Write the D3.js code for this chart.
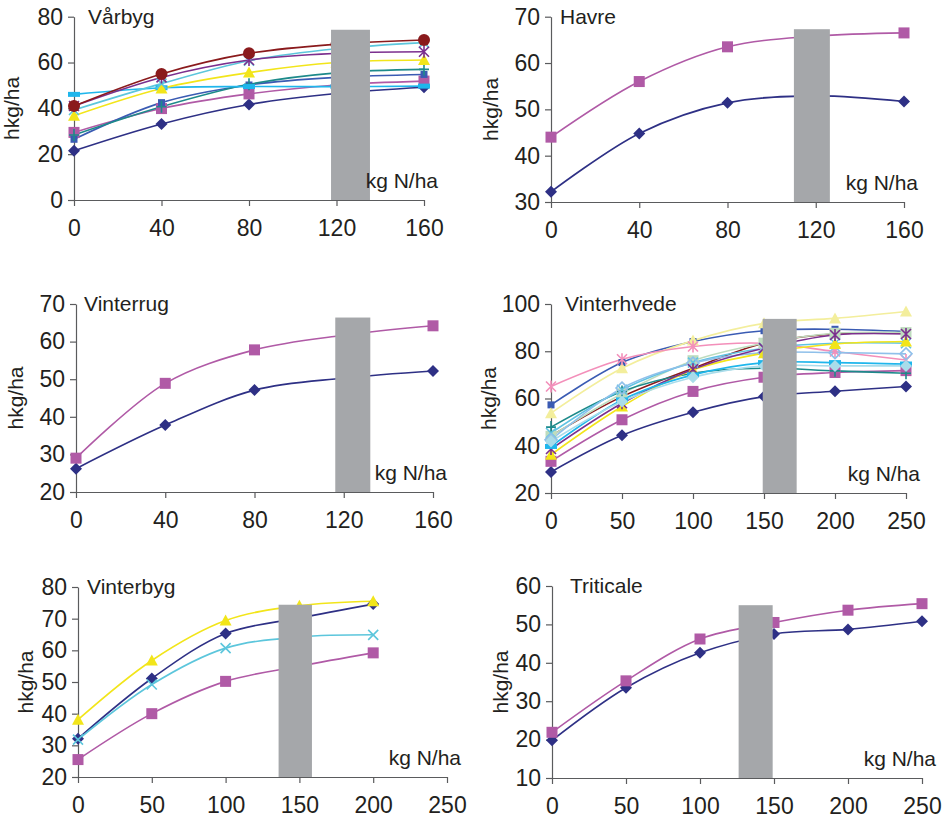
<!DOCTYPE html>
<html>
<head>
<meta charset="utf-8">
<script src="https://cdn.jsdelivr.net/npm/d3@7"></script>
<style>
  body { margin: 0; background: #fff; }
  svg { display: block; font-family: "Liberation Sans", Arial, sans-serif; }
</style>
</head>
<body>
<svg id="chart" width="944" height="820"></svg>
<script>
// ---- data (hkg/ha) ----
const vaarbygN = [0, 40, 80, 120, 160];
const vaarbygY = [
  [21.5, 33.2, 41.7, 46.5, 49.2],
  [29.5, 39.9, 46.3, 50.2, 51.9],
  [26.5, 42.5, 50.2, 53.5, 54.8],
  [28.4, 40.7, 50.5, 55.5, 57.0],
  [46.1, 49.0, 49.5, 49.5, 49.7],
  [36.8, 48.7, 55.6, 60.0, 61.1],
  [39.3, 50.8, 60.8, 66.0, 68.7],
  [41.0, 53.5, 61.1, 64.0, 64.7],
  [41.0, 55.0, 64.0, 68.0, 69.8]
];
const havreN = [0, 40, 80, 120, 160];
const havreY = [
  [32.2, 44.8, 51.4, 52.9, 51.7],
  [44.0, 56.0, 63.5, 65.8, 66.5]
];
const vinterrugN = [0, 40, 80, 120, 160];
const vinterrugY = [
  [26.2, 37.8, 47.1, 50.3, 52.2],
  [29.0, 48.9, 57.8, 61.7, 64.2]
];
const vinterhvedeN = [0, 50, 100, 150, 200, 250];
const vinterhvedeY = [
  [28.9, 44.4, 54.2, 60.8, 63.1, 65.1],
  [33.4, 51.0, 63.0, 69.0, 71.0, 71.8],
  [57.3, 75.2, 84.1, 88.7, 89.3, 88.3],
  [53.8, 72.8, 84.5, 91.8, 93.9, 96.8],
  [65.1, 76.6, 82.0, 83.4, 79.9, 76.3],
  [44.2, 60.8, 72.8, 83.4, 87.3, 87.6],
  [44.0, 62.0, 76.0, 83.4, 87.6, 87.9],
  [47.9, 63.0, 70.7, 72.8, 71.7, 70.7],
  [45.4, 63.7, 75.2, 81.3, 83.4, 83.4],
  [42.5, 64.4, 75.0, 79.4, 79.4, 78.9],
  [36.2, 56.6, 72.1, 79.2, 83.1, 84.1],
  [38.6, 58.0, 72.4, 81.3, 86.9, 87.3],
  [39.7, 59.4, 70.0, 75.2, 75.2, 74.6],
  [41.8, 58.7, 69.0, 73.8, 73.8, 73.8]
];
const vinterbygN = [0, 50, 100, 150, 200];
const vinterbygY = [
  [32.1, 51.1, 65.3, 70.2, 74.6],
  [25.5, 40.0, 50.2, 55.0, 59.2],
  [38.1, 56.8, 69.4, 74.1, 75.5],
  [31.8, 49.2, 60.7, 64.2, 64.9]
];
const triticaleN = [0, 50, 100, 150, 200, 250];
const triticaleY = [
  [19.8, 33.5, 42.6, 47.5, 48.7, 50.8],
  [21.9, 35.3, 46.2, 50.5, 53.7, 55.4]
];

// grey band: [from kg N, to kg N, top hkg]
const vaarbygBand = [117.5, 135.3, 74.3];
const havreBand = [110.1, 126.4, 67.3];
const vinterrugBand = [116.2, 131.9, 66.4];
const vinterhvedeBand = [149.1, 173.0, 93.7];
const vinterbygBand = [135.9, 158.5, 74.4];
const triticaleBand = [126.1, 149.1, 55.0];

// tick labels
const xTicks160 = [0, 40, 80, 120, 160];
const xTicks250 = [0, 50, 100, 150, 200, 250];
const yTicksVaarbyg = [0, 20, 40, 60, 80];
const yTicksHavre = [30, 40, 50, 60, 70];
const yTicksVinterrug = [20, 30, 40, 50, 60, 70];
const yTicksVinterhvede = [20, 40, 60, 80, 100];
const yTicksVinterbyg = [20, 30, 40, 50, 60, 70, 80];
const yTicksTriticale = [10, 20, 30, 40, 50, 60];

// ---- styles ----
const navy = "#2e3085", magenta = "#b05aa6", yellow = "#f2e51a", cyan = "#5cc6dc",
      purple = "#7b2f8e", darkred = "#8a1a1c", teal = "#1d8a8a", blue = "#3a5bb3",
      brightcyan = "#1fb6ec";

const vaarbygStyle = [
  [navy, "diamond"], [magenta, "square"], [blue, "smallsquare"], [teal, "plus"],
  [brightcyan, "dash"], [yellow, "triangle"], [cyan, "x"], [purple, "star"], [darkred, "circle"]
];
const twoStyle = [[navy, "diamond"], [magenta, "square"]];
const vinterhvedeStyle = [
  [navy, "diamond"], [magenta, "square"], [blue, "smallsquare"], ["#f3ee9c", "triangle"],
  ["#f38fba", "star"], [darkred, "none"], ["#bedcbe", "square"], [teal, "plus"],
  ["#5fc3e3", "x"], ["#8fc0ea", "opendiamond"], [yellow, "triangle"], [purple, "star"],
  [brightcyan, "dash"], ["#a9dcea", "diamond"]
];
const vinterbygStyle = [[navy, "diamond"], [magenta, "square"], [yellow, "triangle"], [cyan, "x"]];

const panels = [
  { title: "Vårbyg", n: vaarbygN, y: vaarbygY, band: vaarbygBand, st: vaarbygStyle,
    xd: [0, 160], xt: xTicks160, yt: yTicksVaarbyg,
    x0: 74, x1: 424, top: 16.7, bot: 200, tx: 88, lx: 19 },
  { title: "Havre", n: havreN, y: havreY, band: havreBand, st: twoStyle,
    xd: [0, 160], xt: xTicks160, yt: yTicksHavre,
    x0: 551, x1: 904, top: 16.7, bot: 202, tx: 560, lx: 498 },
  { title: "Vinterrug", n: vinterrugN, y: vinterrugY, band: vinterrugBand, st: twoStyle,
    xd: [0, 160], xt: xTicks160, yt: yTicksVinterrug,
    x0: 76, x1: 433, top: 304, bot: 492, tx: 84, lx: 23 },
  { title: "Vinterhvede", n: vinterhvedeN, y: vinterhvedeY, band: vinterhvedeBand, st: vinterhvedeStyle,
    xd: [0, 250], xt: xTicks250, yt: yTicksVinterhvede,
    x0: 551, x1: 906, top: 304, bot: 493, tx: 565, lx: 496 },
  { title: "Vinterbyg", n: vinterbygN, y: vinterbygY, band: vinterbygBand, st: vinterbygStyle,
    xd: [0, 250], xt: xTicks250, yt: yTicksVinterbyg,
    x0: 78, x1: 447, top: 587, bot: 777, tx: 87, lx: 33 },
  { title: "Triticale", n: triticaleN, y: triticaleY, band: triticaleBand, st: twoStyle,
    xd: [0, 250], xt: xTicks250, yt: yTicksTriticale,
    x0: 552, x1: 922, top: 586, bot: 778, tx: 570, lx: 508 }
];

const svg = d3.select("#chart");
const ink = "#231f20", axisCol = "#5a5b5d";

function marker(g, type, color, cx, cy) {
  const m = g.append("g").attr("transform", `translate(${cx},${cy})`);
  if (type === "diamond") m.append("path").attr("d", "M0,-6L6,0L0,6L-6,0Z").attr("fill", color);
  else if (type === "opendiamond") m.append("path").attr("d", "M0,-6L6,0L0,6L-6,0Z")
    .attr("fill", "none").attr("stroke", color).attr("stroke-width", 1.6);
  else if (type === "square") m.append("rect").attr("x", -5.5).attr("y", -5.5)
    .attr("width", 11).attr("height", 11).attr("fill", color);
  else if (type === "smallsquare") m.append("rect").attr("x", -3.5).attr("y", -3.5)
    .attr("width", 7).attr("height", 7).attr("fill", color);
  else if (type === "dash") m.append("rect").attr("x", -6).attr("y", -2.5)
    .attr("width", 12).attr("height", 5).attr("fill", color);
  else if (type === "triangle") m.append("path").attr("d", "M0,-6L6,5L-6,5Z").attr("fill", color);
  else if (type === "circle") m.append("circle").attr("r", 6).attr("fill", color);
  else if (type === "x" || type === "star" || type === "plus") {
    let d = "";
    if (type !== "plus") d += "M-5,-5L5,5M-5,5L5,-5";
    if (type === "star") d += "M0,-6L0,6";
    if (type === "plus") d += "M-5,0L5,0M0,-6L0,6";
    m.append("path").attr("d", d).attr("stroke", color).attr("stroke-width", 1.6).attr("fill", "none");
  }
}

panels.forEach(p => {
  const x = d3.scaleLinear().domain(p.xd).range([p.x0, p.x1]);
  const y = d3.scaleLinear().domain([p.yt[0], p.yt[p.yt.length - 1]]).range([p.bot, p.top]);
  const g = svg.append("g");

  // axes
  const ya = g.append("g").attr("transform", `translate(${p.x0},0)`)
    .call(d3.axisLeft(y).tickValues(p.yt).tickSize(6).tickPadding(5).tickSizeOuter(0));
  const xa = g.append("g").attr("transform", `translate(0,${p.bot})`)
    .call(d3.axisBottom(x).tickValues(p.xt).tickSize(6).tickSizeOuter(0));
  [ya, xa].forEach(a => {
    a.selectAll("path, line").attr("stroke", axisCol).attr("stroke-width", 1.2);
    a.selectAll("text").attr("fill", ink).style("font-size", "23px");
  });
  xa.selectAll("text").attr("y", 36).attr("dy", null);

  // lines + markers
  const line = d3.line().x((d, i) => x(p.n[i])).y(d => y(d)).curve(d3.curveCatmullRom.alpha(0.5));
  p.y.forEach((vals, k) => {
    const [col, type] = p.st[k];
    g.append("path").attr("d", line(vals)).attr("fill", "none")
      .attr("stroke", col).attr("stroke-width", 1.6);
  });
  p.y.forEach((vals, k) => {
    const [col, type] = p.st[k];
    if (type === "none") return;
    vals.forEach((v, i) => marker(g, type, col, x(p.n[i]), y(v)));
  });

  // grey band
  g.append("rect").attr("x", x(p.band[0])).attr("width", x(p.band[1]) - x(p.band[0]))
    .attr("y", y(p.band[2])).attr("height", p.bot - y(p.band[2])).attr("fill", "#a5a7aa");

  // labels
  g.append("text").attr("x", p.tx).attr("y", p.top + 7).attr("fill", ink)
    .style("font-size", "21px").text(p.title);
  g.append("text").attr("x", p.x1 + 14).attr("y", p.bot - 12).attr("text-anchor", "end")
    .attr("fill", ink).style("font-size", "21px").text("kg N/ha");
  g.append("text").attr("transform", `translate(${p.lx},${(p.top + p.bot) / 2}) rotate(-90)`)
    .attr("text-anchor", "middle").attr("fill", ink).style("font-size", "21px").text("hkg/ha");
});
</script>
</body>
</html>
